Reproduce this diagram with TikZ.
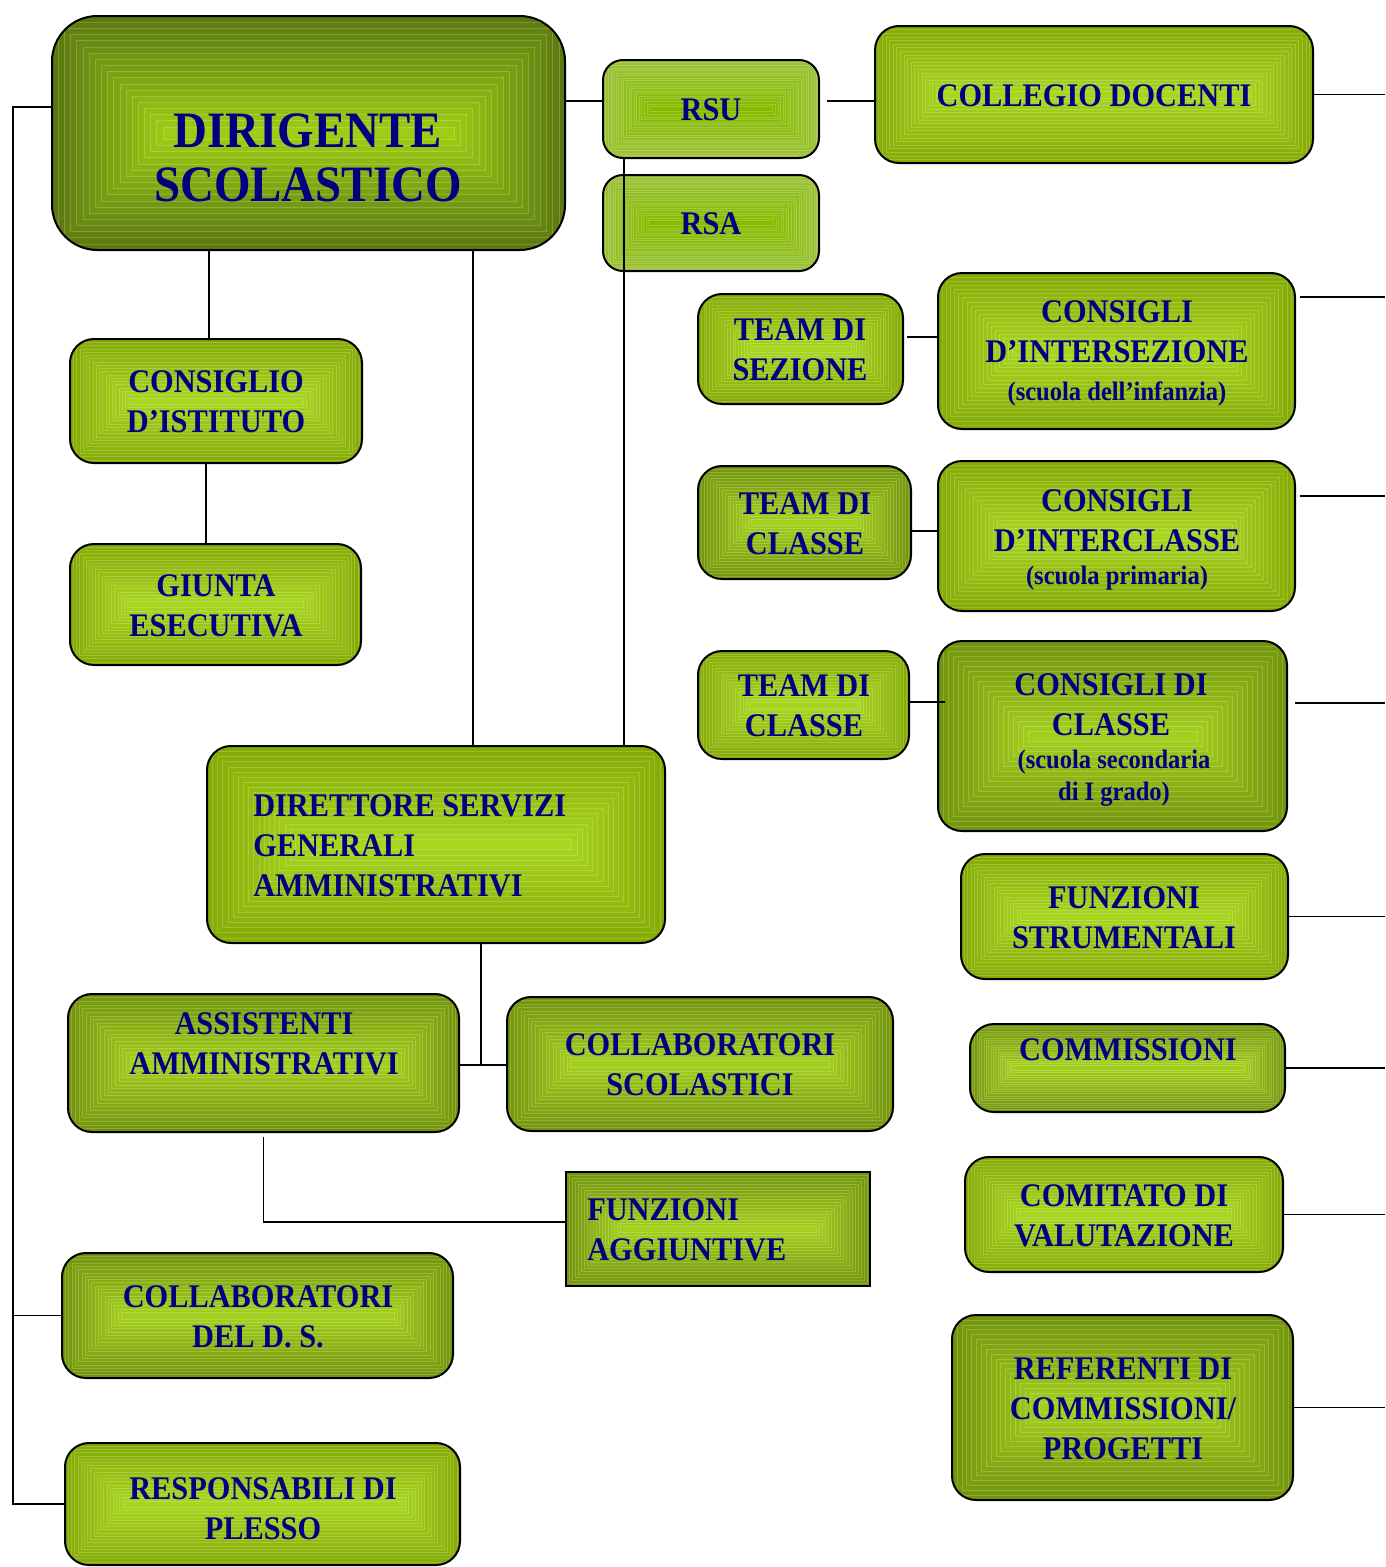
\documentclass[tikz,border=0pt]{standalone}
\usepackage{fontspec}
\setmainfont{Liberation Serif}[FakeStretch=0.92]
\usetikzlibrary{calc}
\definecolor{txt}{HTML}{000080}
\definecolor{sE}{HTML}{84AA04}
\definecolor{sC}{HTML}{A9D420}
\definecolor{dE}{HTML}{5A7810}
\definecolor{dC}{HTML}{9FCC14}
\definecolor{mE}{HTML}{72940C}
\definecolor{mC}{HTML}{A4CE1E}
\definecolor{lE}{HTML}{9CC23A}
\definecolor{lC}{HTML}{86BC00}
\colorlet{gE}{sE}
\colorlet{gC}{sC}
\tikzset{
  x=0.75pt, y=-0.75pt,
  shade steps/.store in=\nsteps, shade steps=18,
  gbox/.style={draw=black, line width=1.5pt, rounded corners=18pt, fill=gE,
    inner sep=0pt, outer sep=0pt,
    path picture={
      \pgfpointdiff{\pgfpointanchor{path picture bounding box}{south west}}{\pgfpointanchor{path picture bounding box}{north east}}
      \pgfgetlastxy{\ww}{\hh}
      \pgfmathsetmacro\st{\hh/2/(\nsteps+1)}
      \foreach \k in {1,...,\nsteps}{
        \pgfmathsetmacro\pc{100*\k/\nsteps}
        \pgfmathsetmacro\dd{\k*\st}
        \colorlet{tmpc}{gC!\pc!gE}
        \fill[tmpc, draw=tmpc!82!white, line width=0.35pt, sharp corners]
          ([shift={(\dd pt,\dd pt)}]path picture bounding box.south west) rectangle
          ([shift={(-\dd pt,-\dd pt)}]path picture bounding box.north east);
      }
    }},
  std/.style={/utils/exec={\colorlet{gE}{sE}\colorlet{gC}{sC}}, gbox},
  mid/.style={/utils/exec={\colorlet{gE}{mE}\colorlet{gC}{mC}}, gbox},
  drk/.style={/utils/exec={\colorlet{gE}{dE}\colorlet{gC}{dC}}, gbox, rounded corners=34pt},
  lgt/.style={/utils/exec={\colorlet{gE}{lE}\colorlet{gC}{lC}}, gbox, rounded corners=15pt},
  lbl/.style={text=txt, font=\bfseries\fontsize{24.75}{30}\selectfont, align=center, inner sep=0pt},
  big/.style={text=txt, font=\bfseries\fontsize{38.25}{40.5}\selectfont, align=center, inner sep=0pt},
  sub/.style={text=txt, font=\bfseries\fontsize{20}{24}\selectfont, align=center, inner sep=0pt},
  conn/.style={line width=1.4pt, black},
}
\newcommand\gnode[6]{%
  \node[#1, minimum width={(#5-#3)*0.75pt}, minimum height={(#6-#4)*0.75pt}]
    (#2) at ({(#3+#5)/2},{(#4+#6)/2}) {};}
\begin{document}
\begin{tikzpicture}
\useasboundingbox (0,0) rectangle (1385,1567);
% boxes
\gnode{drk}{ds}{52}{16}{565}{250}
\gnode{lgt}{rsu}{603}{60}{819}{158}
\gnode{lgt}{rsa}{603}{175}{819}{271}
\gnode{std}{cd}{875}{26}{1313}{163}
\gnode{std}{tsez}{698}{294}{903}{404}
\gnode{std}{cint}{938}{273}{1295}{429}
\gnode{mid}{tc1}{698}{466}{911}{579}
\gnode{std}{cintc}{938}{461}{1295}{611}
\gnode{std}{tc2}{698}{651}{909}{759}
\gnode{mid}{ccl}{938}{641}{1287}{831}
\gnode{std}{fs}{961}{854}{1288}{979}
\gnode{mid}{com}{970}{1024}{1285}{1112}
\gnode{std}{cv}{965}{1157}{1283}{1272}
\gnode{mid}{ref}{952}{1315}{1293}{1500}
\gnode{std}{ci}{70}{339}{362}{463}
\gnode{std}{ge}{70}{544}{361}{665}
\gnode{std}{dsga}{207}{746}{665}{943}
\gnode{mid}{aa}{68}{994}{459}{1132}
\gnode{mid}{cs}{507}{997}{893}{1131}
\gnode{mid,sharp corners}{fa}{566}{1172}{870}{1286}
\gnode{mid}{cds}{62}{1253}{453}{1378}
\gnode{std}{rp}{65}{1443}{460}{1565}
% labels
\node[big] (dsL) at (308,158) {DIRIGENTE\\SCOLASTICO};
\node[lbl] (rsuL) at (711,110) {RSU};
\node[lbl] (rsaL) at (711,224) {RSA};
\node[lbl] (cdL) at (1094,96) {COLLEGIO DOCENTI};
\node[lbl] (tsezL) at (800,350) {TEAM DI\\SEZIONE};
\node[lbl] (cintL) at (1117,332) {CONSIGLI\\D’INTERSEZIONE};
\node[sub] (cintS) at (1117,394) {(scuola dell’infanzia)};
\node[lbl] (tc1L) at (805,524) {TEAM DI\\CLASSE};
\node[lbl] (cintcL) at (1117,521) {CONSIGLI\\D’INTERCLASSE};
\node[sub] (cintcS) at (1117,578) {(scuola primaria)};
\node[lbl] (tc2L) at (804,706) {TEAM DI\\CLASSE};
\node[lbl] (cclL) at (1111,705) {CONSIGLI DI\\CLASSE};
\node[sub] (cclS) at (1114,778) {(scuola secondaria\\di I grado)};
\node[lbl] (fsL) at (1124,918) {FUNZIONI\\STRUMENTALI};
\node[lbl] (comL) at (1128,1050) {COMMISSIONI};
\node[lbl] (cvL) at (1124,1216) {COMITATO DI\\VALUTAZIONE};
\node[lbl] (refL) at (1123,1409) {REFERENTI DI\\COMMISSIONI/\\PROGETTI};
\node[lbl] (ciL) at (216,402) {CONSIGLIO\\D’ISTITUTO};
\node[lbl] (geL) at (216,606) {GIUNTA\\ESECUTIVA};
\node[lbl, align=left, anchor=west] (dsgaL) at (253,846) {DIRETTORE SERVIZI\\GENERALI\\AMMINISTRATIVI};
\node[lbl] (aaL) at (264,1044) {ASSISTENTI\\AMMINISTRATIVI};
\node[lbl] (csL) at (700,1065) {COLLABORATORI\\SCOLASTICI};
\node[lbl, align=left, anchor=west] (faL) at (587,1230) {FUNZIONI\\AGGIUNTIVE};
\node[lbl] (cdsL) at (258,1317) {COLLABORATORI\\DEL D. S.};
\node[lbl] (rpL) at (263,1509) {RESPONSABILI DI\\PLESSO};
% helper coordinates
\coordinate (E) at (1385,0);
\coordinate (h101) at (0,101);
\coordinate (b0) at (13,107);
\coordinate (v1) at (209,0);
\coordinate (v2) at (206,0);
\coordinate (v3) at (473,0);
\coordinate (v4) at (624,0);
\coordinate (v5) at (481,0);
\coordinate (h337) at (0,337);
\coordinate (h531) at (0,531);
\coordinate (h702) at (0,702);
\coordinate (r2) at (1385,297);
\coordinate (r3) at (1385,496);
\coordinate (r4) at (1385,703);
\coordinate (h1065) at (0,1065);
\coordinate (h1222) at (0,1222);
% connectors
\draw[conn] (ds.east |- h101) -- (rsu.west |- h101);
\draw[conn] ([xshift=6pt]rsu.east |- h101) -- (cd.west |- h101);
\draw[conn] (ds.west |- b0) -- (b0) -- (b0 |- rp.west) -- (rp.west);
\draw[conn] (b0 |- cds.west) -- (cds.west);
\draw[conn] (ds.south -| v1) -- (ci.north -| v1);
\draw[conn] (ci.south -| v2) -- (ge.north -| v2);
\draw[conn] (ds.south -| v3) -- (dsga.north -| v3);
\draw[conn] (rsu.south -| v4) -- (dsga.north -| v4);
\draw[conn] ([xshift=3pt]tsez.east |- h337) -- (cint.west |- h337);
\draw[conn] (tc1.east |- h531) -- (cintc.west |- h531);
\draw[conn] (tc2.east |- h702) -- ([xshift=5pt]ccl.west |- h702);
\draw[conn] (cd.east) -- (cd.east -| E);
\draw[conn] ([xshift=4pt]cint.east |- r2) -- (r2);
\draw[conn] ([xshift=4pt]cintc.east |- r3) -- (r3);
\draw[conn] ([xshift=6pt]ccl.east |- r4) -- (r4);
\draw[conn] (fs.east) -- (fs.east -| E);
\draw[conn] (com.east) -- (com.east -| E);
\draw[conn] (cv.east) -- (cv.east -| E);
\draw[conn] (ref.east) -- (ref.east -| E);
\draw[conn] (dsga.south -| v5) -- (v5 |- h1065);
\draw[conn] (aa.east |- h1065) -- (cs.west |- h1065);
\draw[conn] ([yshift=-4pt]aa.south) -- (aa.south |- h1222) -- (fa.west |- h1222);
\end{tikzpicture}
\end{document}
